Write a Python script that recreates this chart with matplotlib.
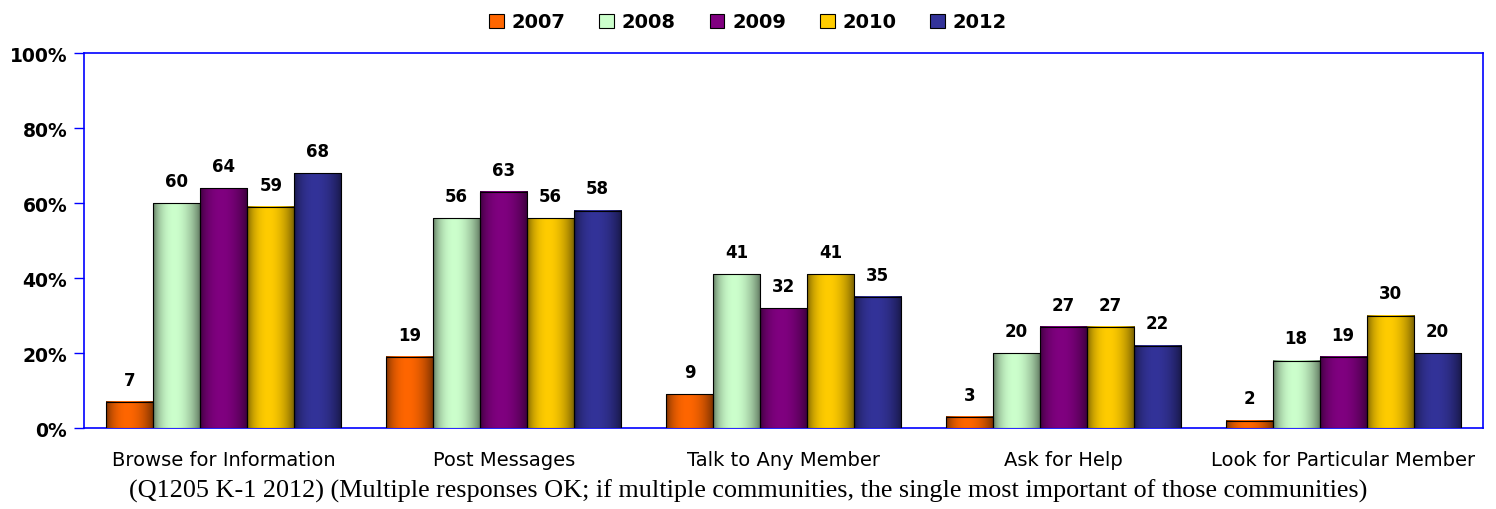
import numpy as np
import matplotlib
matplotlib.use("Agg")
import matplotlib.pyplot as plt
from matplotlib.patches import Patch
from matplotlib.colors import to_rgb

categories = ["Browse for Information", "Post Messages", "Talk to Any Member",
              "Ask for Help", "Look for Particular Member"]
years = ["2007", "2008", "2009", "2010", "2012"]
values = {
    "2007": [7, 19, 9, 3, 2],
    "2008": [60, 56, 41, 20, 18],
    "2009": [64, 63, 32, 27, 19],
    "2010": [59, 56, 41, 27, 30],
    "2012": [68, 58, 35, 22, 20],
}
colors = ["#FF6600", "#CCFFCC", "#800080", "#FFCC00", "#333399"]
yticks = [0, 20, 40, 60, 80, 100]
caption = ("(Q1205 K-1 2012) (Multiple responses OK; if multiple communities, "
           "the single most important of those communities)")


def shade(color, n=64):
    # cylinder-like horizontal shading: dark edges, bright just left of centre
    t = np.linspace(0, 1, n)
    f = 0.42 + 0.58 * np.clip(np.sin(np.pi * (t ** 0.85)), 0, 1) ** 0.7
    rgb = np.array(to_rgb(color))
    return (f[:, None] * rgb[None, :])[None, :, :]


fig = plt.figure(figsize=(14.96, 5.10), dpi=100)
ax = fig.add_axes([0.0561, 0.1588, 0.9352, 0.7352])

x = np.arange(len(categories))
width = 0.168
for i, (yr, col) in enumerate(zip(years, colors)):
    pos = x + (i - 2) * width
    bars = ax.bar(pos, values[yr], width, color=col, zorder=3)
    for p in bars:
        ax.imshow(shade(col), extent=(p.get_x(), p.get_x() + p.get_width(), 0, p.get_height()),
                  aspect="auto", zorder=3.5, interpolation="bilinear")
    ax.bar(pos, values[yr], width, fill=False, edgecolor="black", linewidth=0.8, zorder=4)
    for px, v in zip(pos, values[yr]):
        ax.annotate(str(v), (px, v), xytext=(0, 16), textcoords="offset points",
                    ha="center", va="center", fontsize=12, fontweight="bold", color="black")

ax.set_xlim(-0.5, len(categories) - 0.5)
ax.set_ylim(0, 100)
ax.set_yticks(yticks)
ax.set_yticklabels([f"{t}%" for t in yticks], fontsize=13.5, fontweight="bold")
ax.set_xticks(x)
ax.set_xticklabels(categories, fontsize=14)
ax.tick_params(axis="x", length=0, pad=16)
ax.tick_params(axis="y", length=7, color="#0000FF", width=1, pad=5)
for s in ax.spines.values():
    s.set_color("#0000FF")
    s.set_linewidth(1.2)

handles = [Patch(facecolor=c, edgecolor="black", linewidth=0.8) for c in colors]
fig.legend(handles, years, loc="upper center", bbox_to_anchor=(0.5, 1.008), ncol=5,
           frameon=False, handlelength=0.75, handleheight=0.75, handletextpad=0.4,
           columnspacing=1.75, prop={"size": 14, "weight": "bold"})

fig.text(0.5, 0.036, caption, ha="center", va="center", fontsize=18.8,
         family="Liberation Serif")

fig.savefig("out.png", dpi=100)
